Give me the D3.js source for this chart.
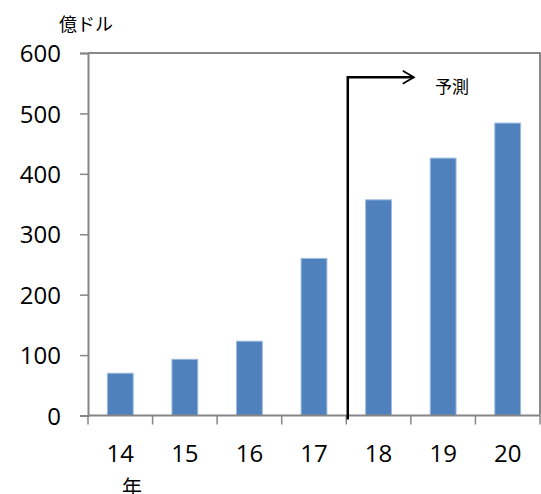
<!DOCTYPE html>
<html>
<head>
<meta charset="utf-8">
<script src="https://cdn.jsdelivr.net/npm/d3@7"></script>
<style>
  body { margin: 0; background: #fff; }
  svg { display: block; }
</style>
</head>
<body>
<svg id="chart" width="541" height="494"></svg>
<script>
// Market size by year (億ドル); 18–20 are forecasts
const years = ["14", "15", "16", "17", "18", "19", "20"];
const values = [70, 93, 123, 260, 357, 426, 484];
const yTicks = [0, 100, 200, 300, 400, 500, 600];
const forecastStart = "18";

const svg = d3.select("#chart");
const plotLeft = 88, plotRight = 540, plotTop = 53, plotBottom = 415.5;

const x = d3.scaleBand().domain(years).range([plotLeft, plotRight]).padding(0);
const y = d3.scaleLinear().domain([0, 600]).range([plotBottom, plotTop]);

const numFont = "'Open Sans', 'Liberation Sans', sans-serif";
const jpFont = "'Noto Sans CJK JP', sans-serif";
const axisColor = "#868686";

// Plot frame (top and right edges)
svg.append("path")
  .attr("d", `M${plotLeft},${plotTop}H${plotRight}V${plotBottom}`)
  .attr("fill", "none")
  .attr("stroke", "#646464")
  .attr("stroke-width", 1.5);

// Bars
const barW = x.bandwidth() * 0.4;
svg.append("g").selectAll("rect")
  .data(values)
  .join("rect")
  .attr("x", (d, i) => x(years[i]) + (x.bandwidth() - barW) / 2)
  .attr("y", d => y(d))
  .attr("width", barW)
  .attr("height", d => y(0) - y(d))
  .attr("fill", "#4F81BD")
  .attr("stroke", "#9DBBE0")
  .attr("stroke-width", 1);

// Y axis
const yAxis = svg.append("g")
  .attr("transform", `translate(${plotLeft},0)`)
  .call(d3.axisLeft(y).tickValues(yTicks).tickSize(8).tickPadding(19));
yAxis.select(".domain").attr("stroke", axisColor).attr("stroke-width", 2);
yAxis.selectAll(".tick line").attr("stroke", axisColor).attr("stroke-width", 1.5);
yAxis.selectAll(".tick text")
  .attr("font-family", numFont).attr("font-size", 24).attr("fill", "#000")
  .attr("dy", "0.36em");

// X axis: ticks sit on the band boundaries, labels at band centres
const bounds = years.map(v => x(v)).concat([plotRight]);
const xAxis = svg.append("g");
xAxis.append("line")
  .attr("x1", plotLeft).attr("x2", plotRight).attr("y1", plotBottom).attr("y2", plotBottom)
  .attr("stroke", axisColor).attr("stroke-width", 2);
xAxis.selectAll("line.tk")
  .data(bounds)
  .join("line")
  .attr("class", "tk")
  .attr("x1", d => d).attr("x2", d => d)
  .attr("y1", plotBottom).attr("y2", plotBottom + 9)
  .attr("stroke", axisColor).attr("stroke-width", 1.5);
xAxis.selectAll("text")
  .data(years)
  .join("text")
  .attr("x", d => x(d) + x.bandwidth() / 2)
  .attr("y", 462)
  .attr("text-anchor", "middle")
  .attr("font-family", numFont).attr("font-size", 24).attr("fill", "#000")
  .text(d => d);

// Axis titles
svg.append("text")
  .attr("x", 59).attr("y", 31)
  .attr("font-family", jpFont).attr("font-size", 18).attr("fill", "#000")
  .text("億ドル");
svg.append("text")
  .attr("x", 132).attr("y", 495)
  .attr("text-anchor", "middle")
  .attr("font-family", jpFont).attr("font-size", 20).attr("fill", "#000")
  .text("年");

// Forecast marker: bracket arrow starting at the first forecast year
const fx = x(forecastStart) + 1.5;
const fy = y(560);
const tipX = fx + 66;
svg.append("path")
  .attr("d", `M${fx},${plotBottom + 4}V${fy}H${tipX}`)
  .attr("fill", "none")
  .attr("stroke", "#000")
  .attr("stroke-width", 2.5);
svg.append("path")
  .attr("d", `M${tipX - 11},${fy - 6.5}L${tipX},${fy}L${tipX - 11},${fy + 6.5}`)
  .attr("fill", "none")
  .attr("stroke", "#000")
  .attr("stroke-width", 1.8);
svg.append("text")
  .attr("x", 435).attr("y", 93)
  .attr("font-family", jpFont).attr("font-size", 17).attr("fill", "#000")
  .text("予測");
</script>
</body>
</html>
